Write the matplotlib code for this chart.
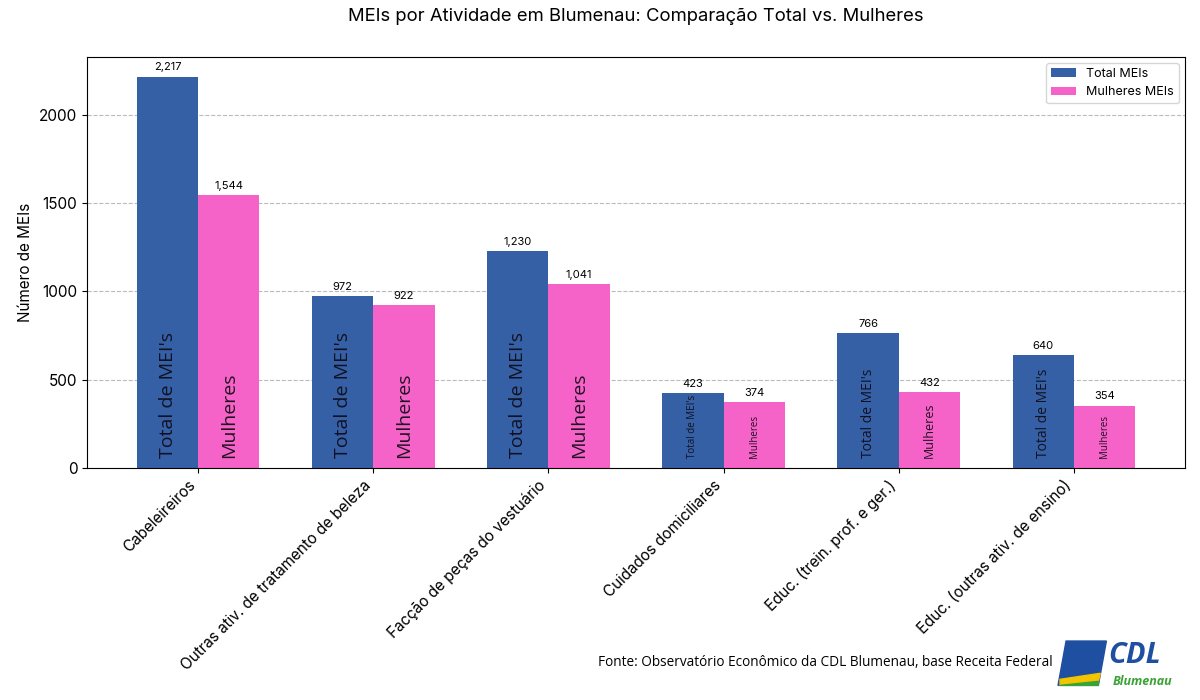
import numpy as np
import matplotlib
matplotlib.use("Agg")
import matplotlib.pyplot as plt
from matplotlib.patches import Polygon

categorias = [
    "Cabeleireiros",
    "Outras ativ. de tratamento de beleza",
    "Facção de peças do vestuário",
    "Cuidados domiciliares",
    "Educ. (trein. prof. e ger.)",
    "Educ. (outras ativ. de ensino)",
]
total_meis = [2217, 972, 1230, 423, 766, 640]
mulheres_meis = [1544, 922, 1041, 374, 432, 354]

# tamanho da fonte dos rótulos internos, como no original
fs_total = [14, 14, 14, 7, 10, 10]
fs_mulheres = [14, 14, 14, 7, 9, 7]

plt.rcParams["font.family"] = ["Inter", "DejaVu Sans"]

fig = plt.figure(figsize=(12, 7), dpi=100)
ax = fig.add_axes([0.0725, 0.3314, 0.915, 0.5872])

x = np.arange(len(categorias))
w = 0.35
azul = "#3560A6"
rosa = "#F562C8"

b1 = ax.bar(x - w / 2, total_meis, w, color=azul, label="Total MEIs", zorder=2)
b2 = ax.bar(x + w / 2, mulheres_meis, w, color=rosa, label="Mulheres MEIs", zorder=2)

for bars, vals in ((b1, total_meis), (b2, mulheres_meis)):
    for b, v in zip(bars, vals):
        ax.annotate(f"{v:,}", (b.get_x() + b.get_width() / 2, v),
                    xytext=(0, 3), textcoords="offset points",
                    ha="center", va="bottom", fontsize=8)

for i in range(len(categorias)):
    ax.text(x[i] - w / 2, 55, "Total de MEI's", rotation=90, ha="center", va="bottom",
            fontsize=fs_total[i], color="#111122", family="Open Sans", zorder=3)
    ax.text(x[i] + w / 2, 55, "Mulheres", rotation=90, ha="center", va="bottom",
            fontsize=fs_mulheres[i], color="#221122", family="Open Sans", zorder=3)

ax.set_ylim(0, 2217 * 1.05)
ax.set_xticks(x)
ax.set_xticklabels(categorias, rotation=45, ha="right", fontsize=11)
ax.tick_params(axis="y", labelsize=11)
ax.set_ylabel("Número de MEIs", fontsize=11)
ax.yaxis.grid(True, linestyle="--", color="#bbbbbb", linewidth=0.8, zorder=0)
ax.set_axisbelow(True)
ax.legend(loc="upper right", fontsize=9)
ax.set_title("MEIs por Atividade em Blumenau: Comparação Total vs. Mulheres",
             fontsize=13.3, pad=26)

fig.text(0.877, 0.054, "Fonte: Observatório Econômico da CDL Blumenau, base Receita Federal",
         ha="right", va="center", fontsize=9.8, family="Open Sans")

# logo CDL simplificado
lax = fig.add_axes([0.88, 0.018, 0.105, 0.072])
lax.set_xlim(0, 125)
lax.set_ylim(0, 50)
lax.axis("off")
lax.add_patch(Polygon([[2, 2], [10, 46], [50, 46], [42, 2]], closed=True, color="#1f4fa0"))
lax.add_patch(Polygon([[4, 8], [44, 14], [42, 6], [4, 2]], closed=True, color="#f2c500"))
lax.add_patch(Polygon([[4, 2], [42, 6], [42, 2]], closed=True, color="#3aa335"))
lax.text(52, 32, "CDL", fontsize=21, fontweight="bold", fontstyle="italic",
         color="#1f4fa0", va="center", ha="left", family="Open Sans")
lax.text(56, 6, "Blumenau", fontsize=9, fontweight="bold", fontstyle="italic",
         color="#3aa335", va="center", ha="left", family="Open Sans")

fig.savefig("out.png", dpi=100)
